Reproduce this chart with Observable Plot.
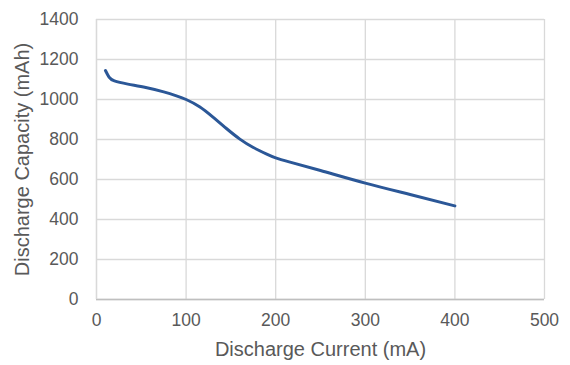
<!DOCTYPE html>
<html>
<head>
<meta charset="utf-8">
<script src="https://cdn.jsdelivr.net/npm/d3@7"></script>
<script src="https://cdn.jsdelivr.net/npm/@observablehq/plot@0.6"></script>
<style>
  html, body { margin: 0; padding: 0; background: #fff; }
  #chart svg { display: block; }
</style>
</head>
<body>
<div id="chart"></div>
<script>
const current = [10, 14, 20, 35, 55, 75, 90, 100, 115, 130, 145, 160, 175, 190, 200, 215, 250, 300, 350, 400];
const capacity = [1145, 1112, 1093, 1077, 1060, 1038, 1017, 1000, 964, 912, 855, 802, 760, 727, 708, 688, 645, 582, 525, 468];
const xTicks = [0, 100, 200, 300, 400, 500];
const yTicks = [0, 200, 400, 600, 800, 1000, 1200, 1400];

const data = current.map((c, i) => ({current: c, capacity: capacity[i]}));

const textColor = "#595959";
const font = "Arial, 'Liberation Sans', sans-serif";

const chart = Plot.plot({
  width: 570,
  height: 365,
  marginLeft: 96,
  marginRight: 26,
  marginTop: 19,
  marginBottom: 66,
  style: {fontFamily: font, color: textColor, background: "#fff"},
  x: {domain: [0, 500]},
  y: {domain: [0, 1400]},
  marks: [
    Plot.gridX(xTicks, {stroke: "#d9d9d9", strokeOpacity: 1, strokeWidth: 1.3}),
    Plot.gridY(yTicks, {stroke: "#d9d9d9", strokeOpacity: 1, strokeWidth: 1.3}),
    Plot.ruleY([0], {stroke: "#bfbfbf", strokeWidth: 1.3}),
    Plot.ruleX([0], {stroke: "#d9d9d9", strokeWidth: 1.3}),
    Plot.axisX(xTicks, {
      tickSize: 0, tickPadding: 14, fontSize: 17.5, fill: textColor, tickFormat: "d",
      label: "Discharge Current (mA)", labelAnchor: "center", labelArrow: "none", labelOffset: 56
    }),
    Plot.axisY(yTicks, {
      tickSize: 0, tickPadding: 18, fontSize: 17.5, fill: textColor, tickFormat: "d",
      label: "Discharge Capacity (mAh)", labelAnchor: "center", labelArrow: "none", labelOffset: 82
    }),
    Plot.line(data, {x: "current", y: "capacity", stroke: "#2B5797", strokeWidth: 3, curve: "natural"})
  ]
});

d3.select(chart).selectAll("[aria-label='x-axis label'], [aria-label='y-axis label']").attr("font-size", 20);

document.getElementById("chart").append(chart);
</script>
</body>
</html>
